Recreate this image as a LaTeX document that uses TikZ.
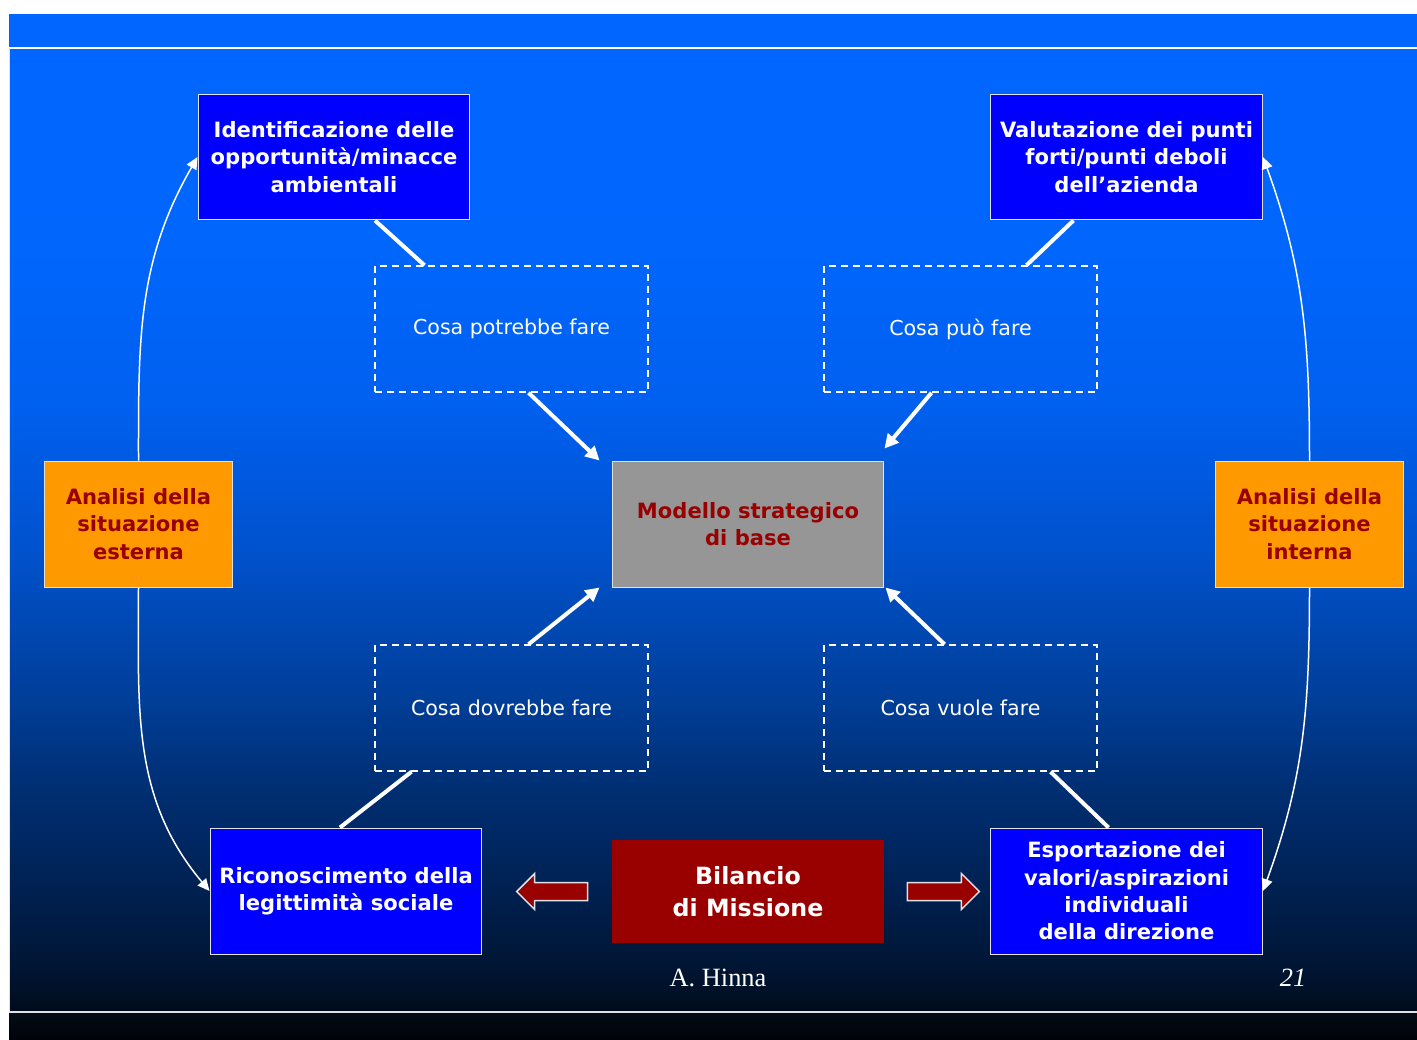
\documentclass[tikz,border=0pt]{standalone}
\usepackage{fontspec}
\setmainfont{DejaVu Sans}
\newfontfamily\timesfont{Liberation Serif}
\usetikzlibrary{calc,arrows.meta}
\definecolor{bandblue}{RGB}{0,102,255}
\definecolor{boxblue}{RGB}{0,0,255}
\definecolor{boxline}{RGB}{225,225,230}
\definecolor{darkred}{RGB}{153,0,0}
\definecolor{orangebox}{RGB}{255,153,0}
\definecolor{greybox}{RGB}{150,150,150}
\definecolor{sa}{RGB}{0,12,28}
\definecolor{sb}{RGB}{0,20,48}
\definecolor{sc}{RGB}{0,38,95}
\definecolor{sd}{RGB}{0,48,118}
\definecolor{se}{RGB}{0,62,152}
\definecolor{sf}{RGB}{0,82,205}
\definecolor{sg}{RGB}{0,96,240}
\definecolor{sh}{RGB}{0,102,252}
\definecolor{bandtop}{RGB}{4,12,22}
\definecolor{bandbot}{RGB}{0,2,8}
\pgfdeclareverticalshading{bgshade}{100bp}{color(0bp)=(sa); color(25bp)=(sa); color(26.8bp)=(sb); color(33.3bp)=(sc); color(37.1bp)=(sd); color(41.1bp)=(se); color(48.9bp)=(sf); color(56.7bp)=(sg); color(64.5bp)=(sh); color(75bp)=(bandblue); color(100bp)=(bandblue)}
\begin{document}
\begin{tikzpicture}[x=0.02cm,y=-0.02cm]
\tikzstyle{every node}+=[inner sep=0pt]
\tikzstyle{bluebox}=[draw=boxline, line width=0.02cm, fill=boxblue, text=white, align=center, font=\fontsize{12}{15.6}\selectfont\bfseries, minimum width=5.44cm, minimum height=2.52cm]
\tikzstyle{orangebox}=[bluebox, fill=orangebox, text=darkred, minimum width=3.78cm]
\tikzstyle{greybox}=[bluebox, fill=greybox, text=darkred]
\tikzstyle{askbox}=[draw=white, line width=0.03cm, dash pattern=on 0.14cm off 0.1cm, text=white, align=center, font=\fontsize{11.7}{14}\selectfont, minimum width=5.46cm, minimum height=2.52cm]
\tikzstyle{link}=[white, line width=0.08cm]
\tikzstyle{linkarrow}=[link, -{Triangle[length=0.28cm,width=0.28cm]}]
\tikzstyle{thinarrow}=[white, line width=0.03cm, -{Triangle[length=0.24cm,width=0.22cm]}]
\tikzstyle{blockarrow}=[fill=darkred, draw=boxline, line width=0.03cm]
\useasboundingbox (0,0) rectangle (1417,1039);
\fill [white] (0,0) rectangle (1417,1039);
\fill [bandblue] (9,14) rectangle (1417,47);
\shade [shading=bgshade] (9,49) rectangle (1417,1010);
\shade [top color=bandtop, bottom color=bandbot] (9,1013) rectangle (1417,1039);
\draw [white, line width=0.04cm] (9,48) -- (1417,48);
\draw [boxline, line width=0.04cm] (9,1011.5) -- (1417,1011.5);
\draw [boxline, line width=0.02cm] (9.5,48) -- (9.5,1011);
\node [bluebox] (idopp) at (334,157) {Identificazione delle\\opportunità/minacce\\ambientali};
\node [bluebox] (valpunti) at (1126.5,157) {Valutazione dei punti\\forti/punti deboli\\dell’azienda};
\node [bluebox] (ricon) at (346,891) {Riconoscimento della\\legittimità sociale};
\node [bluebox] (esport) at (1126.5,891) {Esportazione dei\\valori/aspirazioni\\individuali\\della direzione};
\node [askbox] (cpotr) at (511.5,329) {Cosa potrebbe fare};
\node [askbox] (cpuo) at (960.5,329) {Cosa può fare};
\node [askbox] (cdovr) at (511.5,708) {Cosa dovrebbe fare};
\node [askbox] (cvuol) at (960.5,708) {Cosa vuole fare};
\node [greybox] (modello) at (748,524) {Modello strategico\\di base};
\node [orangebox] (anest) at (138.5,524) {Analisi della\\situazione\\esterna};
\node [orangebox] (anint) at (1309.5,524) {Analisi della\\situazione\\interna};
\node [fill=darkred, text=white, align=center, font=\fontsize{13.5}{18.2}\selectfont\bfseries, minimum width=5.44cm, minimum height=2.06cm] (bilancio) at (748,891.5) {Bilancio\\di Missione};
\node [text=white, font=\timesfont\fontsize{15}{18}\selectfont] (hinna) at (718,978) {A. Hinna};
\node [text=white, font=\timesfont\itshape\fontsize{15}{18}\selectfont] (pagenum) at (1293,978) {21};
\draw [link] ($(idopp.south)+(41,0)$) -- ($(cpotr.north)+(-87,0)$);
\draw [linkarrow] ($(cpotr.south)+(17,0)$) -- ($(modello.north west)+(-12,0)$);
\draw [link] ($(valpunti.south)+(-53,0)$) -- ($(cpuo.north)+(66,0)$);
\draw [linkarrow] ($(cpuo.south)+(-29,0)$) -- ($(modello.north east)+(0,-12)$);
\draw [link] ($(cdovr.south)+(-100,0)$) -- ($(ricon.north)+(-6,0)$);
\draw [linkarrow] ($(cdovr.north)+(17,0)$) -- ($(modello.south west)+(-12,0)$);
\draw [link] ($(cvuol.south)+(90,0)$) -- ($(esport.north)+(-18,0)$);
\draw [linkarrow] ($(cvuol.north)+(-16,0)$) -- ($(modello.south east)+(1,0)$);
\draw [thinarrow] (anest.north) to[out=90,in=240] (idopp.west);
\draw [thinarrow] (anest.south) to[out=270,in=130] (ricon.west);
\draw [thinarrow] (anint.north) to[out=90,in=290] (valpunti.east);
\draw [thinarrow] (anint.south) to[out=270,in=70] (esport.east);
\draw [blockarrow] ($(bilancio.west)+(-95,0)$) -- ++(18,-18) -- ++(0,9) -- ++(53,0) -- ++(0,18) -- ++(-53,0) -- ++(0,9) -- cycle;
\draw [blockarrow] ($(bilancio.east)+(95,0)$) -- ++(-18,-18) -- ++(0,9) -- ++(-54,0) -- ++(0,18) -- ++(54,0) -- ++(0,9) -- cycle;
\end{tikzpicture}
\end{document}
